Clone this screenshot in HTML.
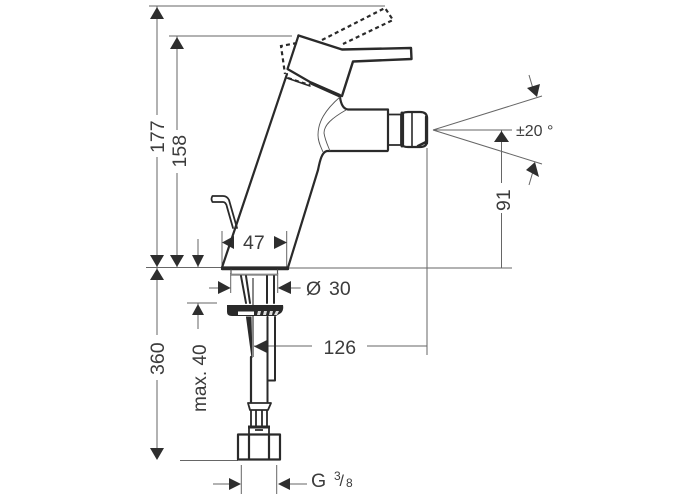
<!DOCTYPE html>
<html><head><meta charset="utf-8"><style>
html,body{margin:0;padding:0;background:#fff}
svg{display:block}
text{font-family:"Liberation Sans",sans-serif;fill:#3c3c3c;font-size:19.500px}
</style></head><body>
<svg width="700" height="500" viewBox="0 0 700 500" xmlns="http://www.w3.org/2000/svg">
<!-- dimension lines -->
<g stroke="#666" stroke-width="1" fill="none">
<path d="M149 6H385M169 36H292"/>
<path d="M157 6V115M157 157V268"/>
<path d="M177 36V130M177 173V268"/>
<path d="M146 267.500H222M288 268H512"/>
<path d="M198 239V268"/>
<path d="M157 268V335M157 380V450"/>
<path d="M222 231V267M286.700 231V267"/>
<path d="M209 288H220M291 288H300.700"/>
<path d="M230.700 273V293M277.700 273V293"/>
<path d="M187 303H217M198 303V329"/>
<path d="M427 148V355"/>
<path d="M254 346H312M367 346H427"/>
<path d="M180 460.500H238"/>
<path d="M241.300 465V494M276.700 465V494"/>
<path d="M213 484H230M307 484H290"/>
<path d="M433 130L542 96M433 130L542 164M433 130H512"/>
<path d="M501.500 130V183M501.500 213V268"/>
<path d="M529 75L534 92M529 185L534 168"/>
<path d="M253 278V357" stroke="#888" stroke-width="2"/>
</g>
<!-- arrowheads -->
<g fill="#2e2e2e" stroke="none">
<path d="M157 7L150 19H164Z"/>
<path d="M177 37L170 49H184Z"/>
<path d="M157 267L150 255H164Z"/>
<path d="M177 267L170 255H184Z"/>
<path d="M198 267L192 255H204Z"/>
<path d="M157 268.500L150 280H164Z"/>
<path d="M157 460L150 448H164Z"/>
<path d="M198 304L192 315H204Z"/>
<path d="M222 242.500L234 236V249Z"/>
<path d="M287 242.500L274 236V249Z"/>
<path d="M230.700 288L218 281V294Z"/>
<path d="M277.700 288L291 281V294Z"/>
<path d="M254 346.500L267 340V353Z"/>
<path d="M241 484L229 478V490Z"/>
<path d="M278 484L290 478V490Z"/>
<path d="M501.500 131L494 142H509Z"/>
<path d="M537 97L527 88L540 84Z"/>
<path d="M535 162L526 170L539 177Z"/>
</g>
<!-- faucet -->
<g stroke="#2a2a2a" fill="none" stroke-linejoin="round" stroke-linecap="round">
<path d="M298.500 35.500L342 49.500L411 48L411.500 59L353 61.500L342 96" stroke-width="2.400"/>
<path d="M298.500 35.500L287.500 69L310 82L340 95" stroke-width="2.200"/>
<path d="M311 83L340 96" stroke-width="3.200"/>
<path d="M287 74L222 267.500H288L318 170C320 160 322 152 327 151H387.500" stroke-width="2.200"/>
<path d="M287 78L310 86" stroke-width="1.600"/>
<path d="M340 97C341 105 344 109 348 109.500H388V150" stroke-width="2.200"/>
<path d="M388 114.500H401V145H388" stroke-width="1.800"/>
<path d="M403 114Q403 112 408 112H420Q427 112 427 118V141Q427 147 420 147H408Q403 147 403 145Z" stroke-width="2.200"/>
<path d="M402 113V146" stroke-width="3"/>
<path d="M412 112V147" stroke-width="1.600"/>
<path d="M426.500 117V143" stroke-width="3.200"/>
<path d="M418 146L426 142" stroke-width="2.600"/>
<path d="M222 269H288" stroke-width="2.400"/>
<path d="M231 270V275H277.500V270" stroke="#555" stroke-width="1.200"/>
<path d="M231.500 274.500H277" stroke="#888" stroke-width="1.800"/>
<path d="M241 276L246 303M246 276L250 303" stroke-width="2"/>
<path d="M267 276V303M274 276V303" stroke-width="2"/>
<path d="M267.500 317V402M275 317V380.500H268" stroke-width="2"/>
<path d="M251 357V402" stroke-width="2.200"/>
<path d="M223 196H212.500Q210.500 199 212.500 202H223Q226 202 227 207L233 228M223 196Q227 196 229 200L237 228" stroke-width="1.800"/>
</g>
<path d="M246.500 317L252 358L251 317Z" fill="#2a2a2a" stroke="#2a2a2a" stroke-width="1"/>
<path d="M253 317V357" stroke="#888" stroke-width="2"/>
<!-- base plate -->
<path d="M227 305H283Q284 310 281 313L276 316H232Q227 316 227 312Z" fill="#2a2a2a"/>
<path d="M238 311.500H254V315H238Z" fill="#fff"/>
<path d="M258 311H261L260 315H257ZM264 311H267L266 315H263ZM270 311H273L272 315H269ZM276 311H279L277 315H274Z" fill="#ddd"/>
<!-- curved transition -->
<path d="M340 97C325 110 318 122 318 135C318 142 321 147 323 152" stroke="#555" stroke-width="0.900" fill="none"/>
<path d="M346 110C332 118 324 125 324 133C325 140 328 146 330 151" stroke="#555" stroke-width="0.900" fill="none"/>
<!-- handle raised (dashed) -->
<g stroke="#2a2a2a" stroke-width="2.200" fill="none" stroke-dasharray="4 3.200">
<path d="M322 40L385 8L393 20L343 44"/>
<path d="M297 43L281 46L285 74"/>
<path d="M288 78L300 82L310 85"/>
</g>
<!-- connector -->
<g stroke="#2a2a2a" fill="none" stroke-linejoin="round">
<path d="M248 403H271L268 410H250Z" stroke-width="1.800"/>
<path d="M251 410V428M256 410V426M262 410V426M267 410V428" stroke-width="1.800"/>
<path d="M248 427H270" stroke-width="3"/>
<path d="M249 428V434M269 428V434M255 430H263" stroke-width="1.800"/>
<path d="M238 434.500H280V459.500H238Z" stroke-width="2.200"/>
<path d="M249 434.500V459.500M269 434.500V459.500" stroke-width="2.200"/>
</g>
<!-- labels -->
<text x="243" y="249">47</text>
<text x="306" y="295">Ø</text>
<text x="329" y="295">30</text>
<text x="323.500" y="354">126</text>
<text x="311" y="487">G</text>
<text x="334" y="480" style="font-size:12px">3</text>
<text x="339.500" y="486" style="font-size:16px">/</text>
<text x="346" y="487" style="font-size:12px">8</text>
<text x="516" y="136" style="font-size:16px">±20 °</text>
<text transform="translate(164,153) rotate(-90)">177</text>
<text transform="translate(186,167.500) rotate(-90)">158</text>
<text transform="translate(164,375) rotate(-90)">360</text>
<text transform="translate(510,211) rotate(-90)">91</text>
<text transform="translate(206,412) rotate(-90)" style="font-size:19px">max. 40</text>
</svg>
</body></html>
